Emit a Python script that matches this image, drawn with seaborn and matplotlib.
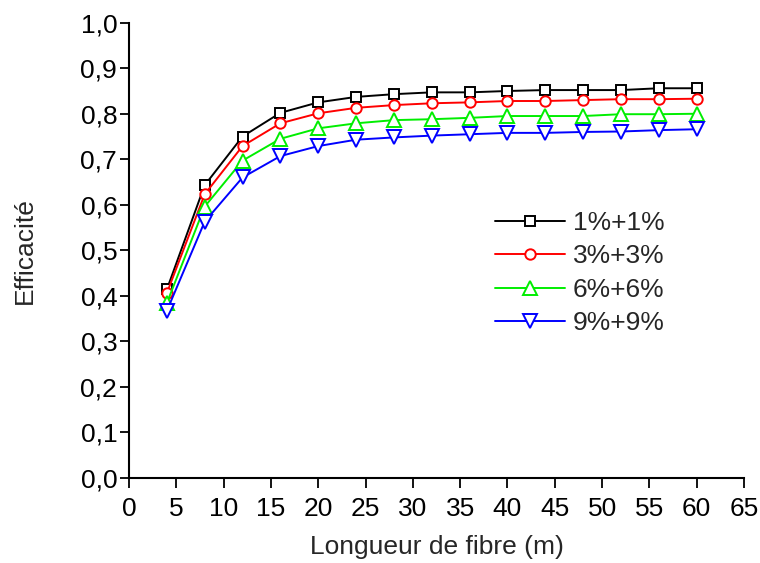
import matplotlib
matplotlib.use("Agg")
import matplotlib.pyplot as plt
import seaborn as sns
import pandas as pd
from matplotlib.ticker import FuncFormatter

# ---- data ----
lengths = [4, 8, 12, 16, 20, 24, 28, 32, 36, 40, 44, 48, 52, 56, 60]
series_labels = ["1%+1%", "3%+3%", "6%+6%", "9%+9%"]
eff_1 = [0.414, 0.643, 0.750, 0.802, 0.825, 0.837, 0.843, 0.847, 0.847, 0.850, 0.852, 0.852, 0.852, 0.856, 0.856]
eff_3 = [0.406, 0.623, 0.729, 0.779, 0.801, 0.813, 0.819, 0.823, 0.825, 0.828, 0.828, 0.830, 0.832, 0.832, 0.833]
eff_6 = [0.384, 0.596, 0.697, 0.745, 0.768, 0.779, 0.786, 0.788, 0.791, 0.795, 0.795, 0.795, 0.799, 0.799, 0.800]
eff_9 = [0.367, 0.563, 0.660, 0.707, 0.729, 0.743, 0.748, 0.752, 0.755, 0.758, 0.758, 0.760, 0.761, 0.764, 0.766]
x_ticks = list(range(0, 66, 5))
y_ticks = [i / 10 for i in range(0, 11)]

sns.set_theme(style="ticks")
plt.rcParams["font.family"] = ["Liberation Sans", "DejaVu Sans"]

colors = ["#000000", "#FF0000", "#00EE00", "#0000FF"]
markers = ["s", "o", "^", "v"]
msizes = [6.5, 7.5, 9.5, 9.5]
FS = 19

fig = plt.figure(figsize=(7.6, 5.63), dpi=100)
ax = fig.add_axes([0.1697, 0.151, 0.8093, 0.8087])

for vals, lab, c, m, ms in zip([eff_1, eff_3, eff_6, eff_9], series_labels, colors, markers, msizes):
    df = pd.DataFrame({"x": lengths, "y": vals})
    sns.lineplot(data=df, x="x", y="y", ax=ax, color=c, marker=m, markersize=ms,
                 markerfacecolor="white", markeredgecolor=c, markeredgewidth=1.4,
                 linewidth=1.4, label=lab)

ax.set_xlim(0, 65)
ax.set_ylim(0, 1.0)
ax.set_xticks(x_ticks)
ax.set_yticks(y_ticks)
ax.yaxis.set_major_formatter(FuncFormatter(lambda v, p: f"{v:.1f}".replace(".", ",")))
for s in ["top", "right"]:
    ax.spines[s].set_visible(False)
for s in ["left", "bottom"]:
    ax.spines[s].set_linewidth(1.5)
    ax.spines[s].set_color("black")
ax.tick_params(axis="both", direction="out", width=1.3, labelsize=FS, colors="black")
ax.tick_params(axis="x", length=7.5, pad=6)
ax.tick_params(axis="y", length=6.5, pad=2)
ax.set_xlabel("Longueur de fibre (m)", fontsize=FS, labelpad=10)
ax.set_ylabel("Efficacité", fontsize=FS, labelpad=31)

leg = ax.legend(loc="center left", bbox_to_anchor=(495 / 760, 1 - 273 / 563),
                bbox_transform=fig.transFigure, frameon=False, fontsize=FS,
                handlelength=2.65, handletextpad=0.3, labelspacing=0.36,
                borderpad=0, borderaxespad=0)

fig.savefig("out.png", dpi=100)
